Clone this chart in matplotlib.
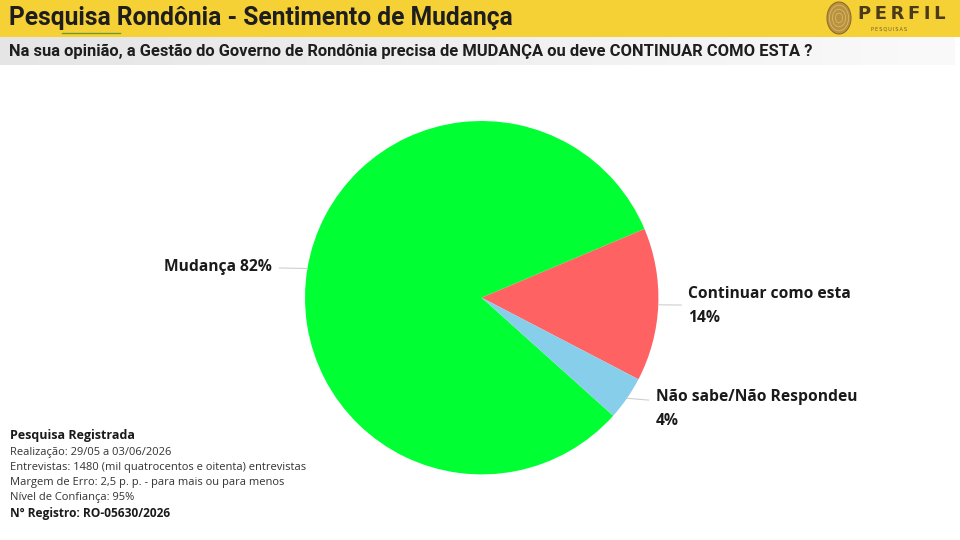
import matplotlib
matplotlib.use("Agg")
import matplotlib.pyplot as plt
from matplotlib.patches import Rectangle, Ellipse
import numpy as np

# ---- data ----
categories = ["Mudança", "Continuar como esta", "Não sabe/Não Respondeu"]
values = [82, 14, 4]
label_texts = ["Mudança 82%", "Continuar como esta\n14%", "Não sabe/Não Respondeu\n4%"]
colors = ["#00FF33", "#FF6262", "#87CEEB"]

title = "Pesquisa Rondônia - Sentimento de Mudança"
subtitle = "Na sua opinião, a Gestão do Governo de Rondônia precisa de MUDANÇA ou deve CONTINUAR COMO ESTA ?"
footer_title = "Pesquisa Registrada"
footer_lines = ["Realização: 29/05 a 03/06/2026",
                "Entrevistas: 1480 (mil quatrocentos e oitenta) entrevistas",
                "Margem de Erro: 2,5 p. p. - para mais ou para menos",
                "Nível de Confiança: 95%"]
footer_reg = "Nº Registro: RO-05630/2026"

W, H = 960, 540
fig = plt.figure(figsize=(W / 100, H / 100), dpi=100)
fig.patch.set_facecolor("white")

def fx(px):
    return px / W

def fy(py):
    return 1 - py / H

# ---- header ----
bg = fig.add_axes([0, 0, 1, 1], zorder=0)
bg.axis("off")
bg.add_patch(Rectangle((0, 0), W, 37, color="#F6D136", lw=0))
grad = np.linspace(0, 1, 50)[None, :]
bg.imshow(np.dstack([0.90 + 0.08 * grad] * 3), extent=(0, 955, 65, 37), aspect="auto")
bg.set_xlim(0, W)
bg.set_ylim(H, 0)

narrow = ["Roboto", "DejaVu Sans"]
fig.text(fx(9), fy(18), title, fontsize=17.7, fontweight="bold", color="#1e1e1e",
         family=narrow, va="center", ha="left")
fig.text(fx(9), fy(51), subtitle, fontsize=11.9, fontweight="bold", color="#1e1e1e",
         family=narrow, va="center", ha="left")
# spell-check style underline under "Rondônia"
bg.plot([62, 120], [32.5, 32.5], color="#6f9a2c", lw=1.0)

# logo
bg.add_patch(Ellipse((839, 18), 24, 32, facecolor="#B8923E", edgecolor="#8f6e2a", lw=0.8))
for r in [0.3, 0.55, 0.8]:
    bg.add_patch(Ellipse((839, 18), 24 * r, 32 * r, facecolor="none", edgecolor="#d9b868", lw=0.6))
fig.text(fx(858), fy(14), "P\u2009E\u2009R\u2009F\u2009I\u2009L", fontsize=13, fontweight="bold",
         color="#4a3b1a", family=["DejaVu Sans"], va="center", ha="left")
fig.text(fx(871), fy(29), "P\u2009E\u2009S\u2009Q\u2009U\u2009I\u2009S\u2009A\u2009S", fontsize=3.6,
         color="#6a5a30", family=["DejaVu Sans"], va="center", ha="left")

# ---- pie ----
cx, cy, R = 481.7, 297.7, 176.7
ax = fig.add_axes([fx(cx - R), fy(cy + R), 2 * R / W, 2 * R / H], zorder=1)
wedges, _ = ax.pie(values, colors=colors, startangle=-41.9, counterclock=False,
                   radius=1.0, wedgeprops=dict(linewidth=0))
ax.set_xlim(-1, 1)
ax.set_ylim(-1, 1)
ax.axis("off")

lab_font = dict(fontsize=11.25, fontweight="bold", color="#1a1a1a", family=["Open Sans", "DejaVu Sans"])
# text anchor offsets (in axes data units, radius = 1)
text_pos = [(-1.185, 0.175), (1.17, -0.047), (0.985, -0.630)]
ha_list = ["right", "left", "left"]
for w, lab, tp, ha in zip(wedges, label_texts, text_pos, ha_list):
    ang = np.deg2rad((w.theta1 + w.theta2) / 2)
    x, y = np.cos(ang), np.sin(ang)
    ax.annotate(lab, xy=(x * 1.0, y * 1.0), xytext=tp, ha=ha, va="center",
                linespacing=1.62,
                arrowprops=dict(arrowstyle="-", color="#cfcfcf", lw=0.8,
                                shrinkA=3, shrinkB=0),
                annotation_clip=False, **lab_font)

# ---- footer ----
ff = ["Open Sans", "DejaVu Sans"]
fig.text(fx(10), fy(436), footer_title, fontsize=9.0, fontweight="bold", color="#1a1a1a",
         family=ff, va="center")
for i, line in enumerate(footer_lines):
    fig.text(fx(10), fy(452 + 15.2 * i), line, fontsize=8.0, color="#333333",
             family=ff, va="center")
fig.text(fx(10), fy(513), footer_reg, fontsize=8.6, fontweight="bold", color="#1a1a1a",
         family=ff, va="center")

fig.savefig("out.png", dpi=100, facecolor="white")
